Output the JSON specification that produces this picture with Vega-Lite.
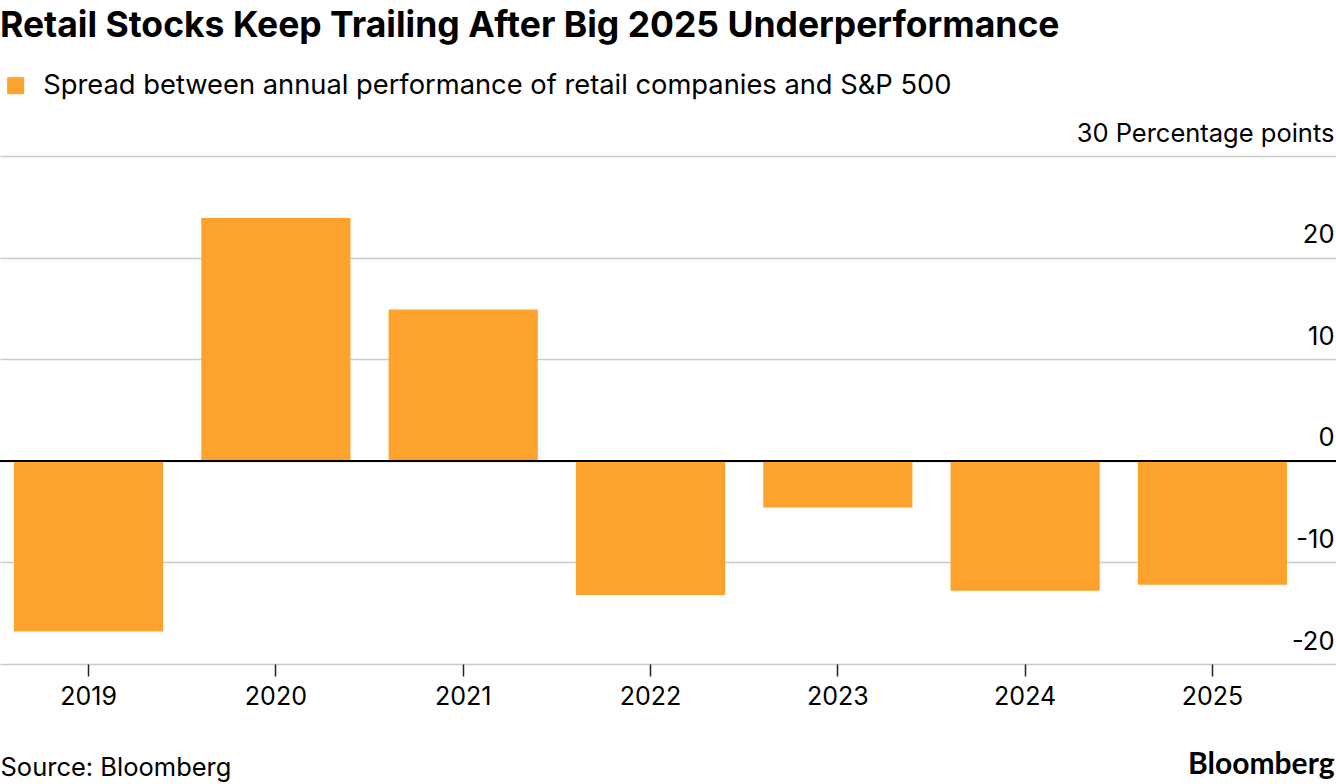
{
  "$schema": "https://vega.github.io/schema/vega-lite/v6.json",
  "autosize": "none",
  "width": 1336,
  "height": 508,
  "padding": {"top": 156, "left": 0, "right": 0, "bottom": 120},
  "background": "white",
  "title": {
    "text": "Retail Stocks Keep Trailing After Big 2025 Underperformance",
    "anchor": "start",
    "frame": "group",
    "font": "Inter",
    "fontSize": 35.5,
    "fontWeight": "bold",
    "color": "#000000",
    "offset": 28
  },
  "data": {
    "values": [
      {"year": "2019", "spread": -16.8, "series": "Spread between annual performance of retail companies and S&P 500"},
      {"year": "2020", "spread": 23.9, "series": "Spread between annual performance of retail companies and S&P 500"},
      {"year": "2021", "spread": 14.9, "series": "Spread between annual performance of retail companies and S&P 500"},
      {"year": "2022", "spread": -13.2, "series": "Spread between annual performance of retail companies and S&P 500"},
      {"year": "2023", "spread": -4.6, "series": "Spread between annual performance of retail companies and S&P 500"},
      {"year": "2024", "spread": -12.8, "series": "Spread between annual performance of retail companies and S&P 500"},
      {"year": "2025", "spread": -12.2, "series": "Spread between annual performance of retail companies and S&P 500"}
    ]
  },
  "config": {
    "view": {"stroke": null},
    "font": "Inter"
  },
  "layer": [
    {
      "mark": {"type": "bar"},
      "encoding": {
        "x": {
          "field": "year",
          "type": "ordinal",
          "scale": {"paddingInner": 0.2035, "paddingOuter": 0.168, "align": 0.222},
          "axis": {
            "title": "Source: Bloomberg",
            "titleAnchor": "start",
            "titleAlign": "left",
            "titleBaseline": "alphabetic",
            "titleX": 0,
            "titleY": 111,
            "titleFont": "Inter",
            "titleFontSize": 25.5,
            "titleFontWeight": "normal",
            "titleColor": "#000000",
            "labelAngle": 0,
            "labelFont": "Inter",
            "labelFontSize": 25,
            "labelColor": "#000000",
            "labelPadding": 8,
            "tickSize": 12,
            "tickColor": "#222222",
            "tickWidth": 1.5,
            "domain": false,
            "grid": false
          }
        },
        "y": {
          "field": "spread",
          "type": "quantitative",
          "scale": {"domain": [-20, 30], "nice": false, "zero": false},
          "axis": {
            "orient": "right",
            "values": [-20, -10, 0, 10, 20, 30],
            "labelExpr": "datum.value == 30 ? '30 Percentage points' : '' + datum.value",
            "labelAlign": "right",
            "labelBaseline": "alphabetic",
            "labelOffset": -15,
            "labelPadding": -2,
            "labelLimit": 600,
            "labelFont": "Inter",
            "labelFontSize": 25.5,
            "labelColor": "#000000",
            "ticks": false,
            "domain": false,
            "grid": true,
            "gridColor": "#cccccc",
            "gridWidth": 1.5,
            "title": "Bloomberg",
            "titleAngle": 0,
            "titleAlign": "right",
            "titleBaseline": "alphabetic",
            "titleX": -2,
            "titleY": 617,
            "titleFont": "Lato",
            "titleFontSize": 30,
            "titleFontWeight": "bold",
            "titleColor": "#000000"
          }
        },
        "color": {
          "field": "series",
          "type": "nominal",
          "scale": {"range": ["#FDA22D"]},
          "legend": {
            "title": null,
            "orient": "none",
            "legendX": 2,
            "legendY": -84,
            "symbolType": "square",
            "symbolSize": 289,
            "symbolStrokeWidth": 0,
            "symbolOpacity": 1,
            "labelFont": "Inter",
            "labelFontSize": 27.3,
            "labelColor": "#000000",
            "labelOffset": 14,
            "labelLimit": 2000
          }
        }
      }
    },
    {
      "mark": {"type": "rule", "color": "#000000", "strokeWidth": 1.5},
      "encoding": {"y": {"datum": 0}}
    }
  ]
}
